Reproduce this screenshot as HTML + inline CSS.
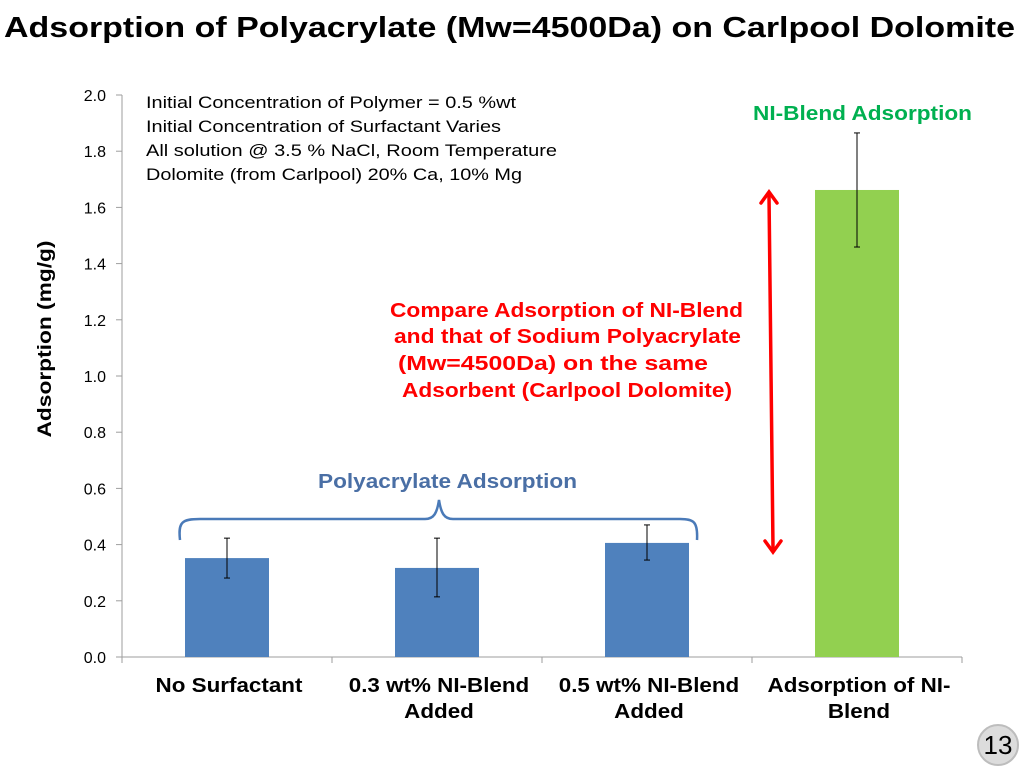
<!DOCTYPE html>
<html><head><meta charset="utf-8"><style>
body{margin:0;background:#fff;}
svg{display:block;font-family:"Liberation Sans",Arial,sans-serif;}
</style></head><body>
<svg width="1024" height="768" viewBox="0 0 1024 768">
<text x="4" y="37" font-size="29" font-weight="bold" fill="#000" textLength="1011" lengthAdjust="spacingAndGlyphs">Adsorption of Polyacrylate (Mw=4500Da) on Carlpool Dolomite</text>
<g id="axes"></g>
<g id="bars"></g>
<text transform="translate(51,339) rotate(-90)" text-anchor="middle" font-size="19" font-weight="bold" textLength="197" lengthAdjust="spacingAndGlyphs">Adsorption (mg/g)</text>
<g font-size="17" fill="#000" lengthAdjust="spacingAndGlyphs">
<text x="146" y="108" textLength="370" lengthAdjust="spacingAndGlyphs">Initial Concentration of Polymer = 0.5 %wt</text>
<text x="146" y="132" textLength="355" lengthAdjust="spacingAndGlyphs">Initial Concentration of Surfactant Varies</text>
<text x="146" y="156" textLength="411" lengthAdjust="spacingAndGlyphs">All solution @ 3.5 % NaCl, Room Temperature</text>
<text x="146" y="180" textLength="376" lengthAdjust="spacingAndGlyphs">Dolomite (from Carlpool) 20% Ca, 10% Mg</text>
</g>
<text x="753" y="120" font-size="20" font-weight="bold" fill="#00b050" textLength="219" lengthAdjust="spacingAndGlyphs">NI-Blend Adsorption</text>
<g font-size="20" font-weight="bold" fill="#ff0000">
<text x="390" y="317" textLength="353" lengthAdjust="spacingAndGlyphs">Compare Adsorption of NI-Blend</text>
<text x="394" y="343" textLength="347" lengthAdjust="spacingAndGlyphs">and that of Sodium Polyacrylate</text>
<text x="398" y="370" textLength="310" lengthAdjust="spacingAndGlyphs">(Mw=4500Da) on the same</text>
<text x="402" y="397" textLength="330" lengthAdjust="spacingAndGlyphs">Adsorbent (Carlpool Dolomite)</text>
</g>
<g stroke="#ff0000" stroke-width="3.5" fill="none" stroke-linecap="round">
<line x1="769" y1="195" x2="773" y2="548"/>
<polyline points="761,203 769,192 777,203"/>
<polyline points="765,541 773,552 781,541"/>
</g>
<text x="318" y="488" font-size="20" font-weight="bold" fill="#4a6fa5" textLength="259" lengthAdjust="spacingAndGlyphs">Polyacrylate Adsorption</text>
<path d="M180,540 C178,522 182,519 200,519 L425,519 C434,519 437,513 439,500 C441,513 444,519 453,519 L680,519 C694,519 698,522 697,540" stroke="#4a7ab8" stroke-width="2.5" fill="none"/>
<g id="xlabels" font-size="20" font-weight="bold" text-anchor="middle"></g>
<circle cx="998" cy="745" r="20" fill="#dcdcdc" stroke="#bdbdbd" stroke-width="2"/>
<text x="998" y="754" text-anchor="middle" font-size="26">13</text>
</svg>
<script>
const categories=[["No Surfactant"],["0.3 wt% NI-Blend","Added"],["0.5 wt% NI-Blend","Added"],["Adsorption of NI-","Blend"]];
const values=[0.352,0.317,0.406,1.662];
const errLow=[0.281,0.214,0.345,1.459];
const errHigh=[0.423,0.423,0.47,1.865];
const yTicks=[0,0.2,0.4,0.6,0.8,1.0,1.2,1.4,1.6,1.8,2.0];
const colors=["#4f81bd","#4f81bd","#4f81bd","#92d050"];
const NS="http://www.w3.org/2000/svg";
const x0=122,cw=210,yb=657,ppu=281;
const y=v=>yb-v*ppu;
const xc=i=>x0+cw*(i+0.5);
function mk(t,a,p){const e=document.createElementNS(NS,t);for(const k in a)e.setAttribute(k,a[k]);p.appendChild(e);return e;}
const ax=document.getElementById('axes');
let l=mk('line',{x1:x0,y1:y(2),x2:x0,y2:yb,stroke:'#9e9e9e','stroke-width':1},ax);


l=mk('line',{x1:x0,y1:yb,x2:x0+cw*4,y2:yb,stroke:'#9e9e9e','stroke-width':1},ax);


yTicks.forEach(t=>{
 mk('line',{x1:x0-6,y1:y(t),x2:x0,y2:y(t),stroke:'#9e9e9e'},ax);
 const tx=mk('text',{x:x0-16,y:y(t)+6,'text-anchor':'end','font-size':16},ax);
 tx.textContent=t.toFixed(1);
 
 
});
for(let i=0;i<=4;i++){mk('line',{x1:x0+cw*i,y1:yb,x2:x0+cw*i,y2:yb+6,stroke:'#9e9e9e'},ax);}
const bg=document.getElementById('bars');
const bw=84;
values.forEach((v,i)=>{
 const r=mk('rect',{x:xc(i)-bw/2,y:y(v),width:bw,height:yb-y(v),fill:colors[i]},bg);
 
 
 const g=mk('g',{stroke:'#000','stroke-width':1},bg);
 
 
 mk('line',{x1:xc(i),y1:y(errHigh[i]),x2:xc(i),y2:y(errLow[i])},g);
 mk('line',{x1:xc(i)-3,y1:y(errHigh[i]),x2:xc(i)+3,y2:y(errHigh[i])},g);
 mk('line',{x1:xc(i)-3,y1:y(errLow[i]),x2:xc(i)+3,y2:y(errLow[i])},g);
});
const xl=document.getElementById('xlabels');
categories.forEach((c,i)=>{
 c.forEach((s,j)=>{
  const t=mk('text',{x:xc(i)+2,y:692+j*26},xl);
  t.textContent=s;
  
  
  const w=t.getComputedTextLength();
  t.setAttribute('textLength',(w*1.12).toFixed(1));
  t.setAttribute('lengthAdjust','spacingAndGlyphs');
 });
});
</script>
</body></html>
